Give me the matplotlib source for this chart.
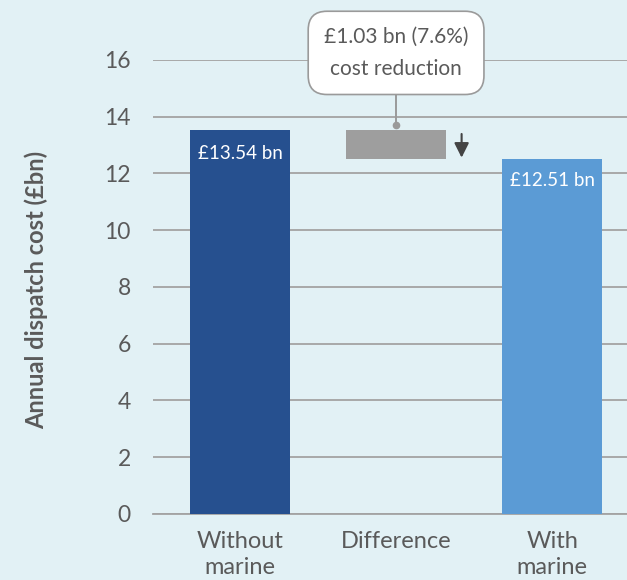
import matplotlib
matplotlib.use("Agg")
import matplotlib.pyplot as plt

categories = ["Without\nmarine", "Difference", "With\nmarine"]
without_marine = 13.54
with_marine = 12.51
reduction = 1.03
reduction_pct = 7.6
yticks = [0, 2, 4, 6, 8, 10, 12, 14, 16]

plt.rcParams['font.family'] = ['Lato', 'DejaVu Sans']
bg = "#e2f1f5"
grey = "#5a5a5a"

fig = plt.figure(figsize=(6.27, 5.8), dpi=100, facecolor=bg)
ax = fig.add_axes([0.244, 0.1138, 0.756, 0.7828], facecolor=bg)

x = [0, 1, 2]
w = 0.64
ax.bar(x[0], without_marine, width=w, color="#26508f", zorder=3)
ax.bar(x[2], with_marine, width=w, color="#5b9bd5", zorder=3)
ax.bar(x[1], without_marine - with_marine, bottom=with_marine, width=w,
       color="#9e9e9e", zorder=3)

ax.text(x[0], without_marine - 0.85, f"£{without_marine:.2f} bn", color="white",
        ha="center", va="center", fontsize=13.5, zorder=4)
ax.text(x[2], with_marine - 0.75, f"£{with_marine:.2f} bn", color="white",
        ha="center", va="center", fontsize=13.5, zorder=4)

# down arrow
ax.annotate("", xy=(1.42, with_marine - 0.05), xytext=(1.42, without_marine - 0.05),
            arrowprops=dict(arrowstyle="-|>", color="#444444", lw=1.5,
                            mutation_scale=22), zorder=4)

# connector and dot
ax.plot([1, 1], [13.72, 14.75], color="#9a9a9a", lw=1.4, zorder=4, clip_on=False)
ax.plot([1], [13.72], marker="o", ms=4.5, color="#9a9a9a", zorder=4, clip_on=False)

ax.text(1, 16.25, f"£{reduction:.2f} bn ({reduction_pct}%)\ncost reduction",
        ha="center", va="center", fontsize=15, color=grey, linespacing=1.75,
        zorder=5, clip_on=False,
        bbox=dict(boxstyle="round,pad=0.75,rounding_size=0.9", fc="white",
                  ec="#9a9a9a", lw=1.2))

ax.set_xlim(-0.558, 2.48)
ax.set_ylim(0, 16)
ax.set_yticks(yticks)
ax.set_xticks(x)
ax.set_xticklabels(categories)
ax.yaxis.grid(True, color="#a3a3a3", lw=1.3, zorder=0)
ax.set_axisbelow(True)
for s in ["top", "right", "left"]:
    ax.spines[s].set_visible(False)
ax.spines["bottom"].set_color("#a3a3a3")
ax.spines["bottom"].set_linewidth(1.3)
ax.tick_params(axis="y", length=0, pad=16, labelsize=16.5, labelcolor=grey)
ax.tick_params(axis="x", length=0, pad=12, labelsize=17, labelcolor=grey)
for lab in ax.get_xticklabels():
    lab.set_linespacing(1.3)

fig.text(0.058, 0.5, "Annual dispatch cost (£bn)", rotation=90, ha="center",
         va="center", fontsize=17, color=grey, fontweight="bold")

fig.savefig("out.png", dpi=100, facecolor=bg)
